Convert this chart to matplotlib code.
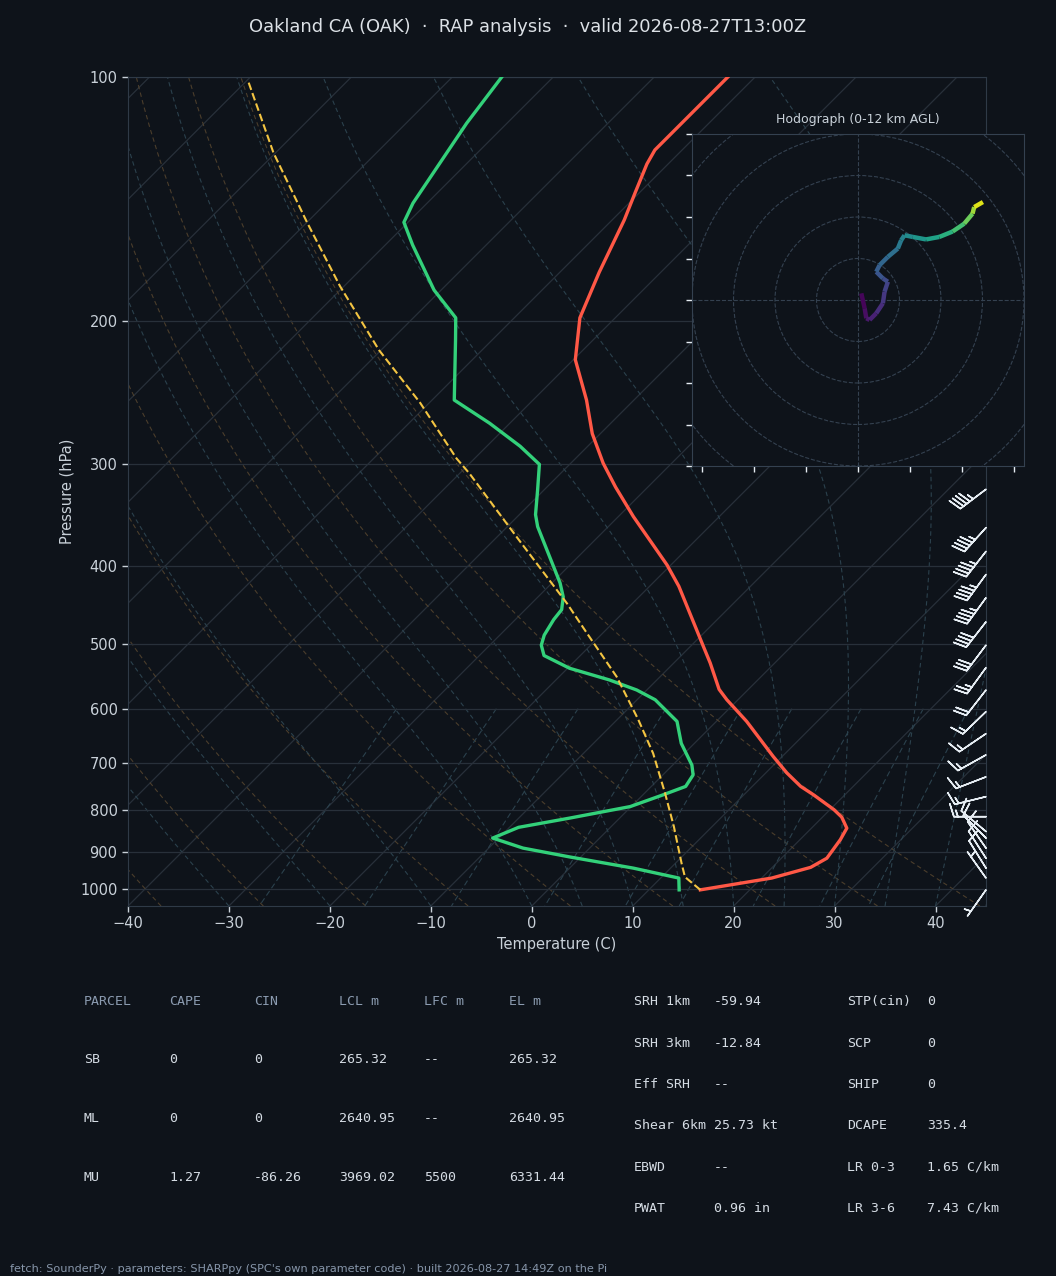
import numpy as np
import matplotlib
matplotlib.use('Agg')
import matplotlib.pyplot as plt
import matplotlib.transforms as mtransforms
from matplotlib.collections import LineCollection
from matplotlib.patches import Circle

# --- sounding values ---
temp_p = [1003, 970, 941, 917, 870, 842, 816, 799, 766, 748, 720, 687, 622, 585, 568,
          527, 503, 480, 424, 399, 348, 320, 299, 275, 250, 223, 198, 174, 162, 150,
          139, 128, 123, 100]
temp_c = [15.1, 21.0, 23.8, 24.5, 24.0, 23.5, 21.9, 20.4, 16.9, 14.8, 12.1, 9.1, 3.0, -1.1, -2.9,
          -6.4, -8.7, -11.0, -17.1, -20.4, -28.5, -33.2, -36.8, -40.8, -44.7, -49.8, -53.5, -56.1, -57.4, -58.8,
          -60.4, -62.1, -62.7, -62.7]

dew_p = [1003, 970, 943, 914, 891, 866, 840, 818, 792, 766, 748, 724, 704, 662, 622,
         585, 569, 553, 535, 516, 501, 487, 466, 453, 437, 420, 358, 346, 323, 300,
         285, 267, 250, 211, 198, 183, 161, 151, 143, 114, 100]
dew_c = [13.0, 11.8, 6.3, -1.0, -6.6, -10.6, -9.1, -4.9, -0.1, 2.0, 3.4, 3.0, 1.9, -1.3, -3.9,
         -8.2, -11.0, -14.7, -19.8, -23.6, -24.9, -25.6, -26.2, -26.4, -27.5, -29.2, -37.0, -38.4, -40.6, -43.0,
         -46.7, -52.0, -57.8, -63.6, -65.8, -70.7, -77.3, -80.4, -81.4, -84.0, -85.1]

parcel_p = [1003, 967, 930, 838, 762, 681, 619, 548, 484, 445, 372, 308, 295, 252, 217, 181, 151, 124, 101]
parcel_c = [15.1, 12.3, 10.6, 6.2, 2.0, -3.1, -7.9, -14.3, -21.6, -26.5, -37.5, -49.0, -51.8, -60.9, -70.2,
            -80.4, -90.0, -100.2, -109.9]

# wind barbs (kt)
barb_p = [275, 322, 359, 384, 410, 438, 469, 501, 534, 569, 605, 644, 684, 728, 770, 815,
          850, 866, 891, 917, 943, 970, 1003]
barb_u = [35.9, 35.9, 30.1, 27.7, 26.5, 26.5, 24.6, 18.1, 14.7, 12.3, 10.8, 12.4, 13.1, 14.0, 14.6, 15.0,
          7.7, 7.1, 5.7, 5.4, 5.3, 2.9, 2.9]
barb_v = [27.1, 27.1, 33.4, 35.5, 36.4, 36.4, 31.5, 24.0, 20.2, 15.8, 10.4, 8.4, 7.3, 5.4, 3.6, 0.0,
          -6.4, -7.1, -8.2, -8.4, -8.5, -4.1, 4.1]

# hodograph 0-12 km
hodo_u = [0.8, 1.6, 2.0, 2.8, 4.4, 6.0, 6.4, 7.2, 6.0, 4.4, 5.2, 7.2, 9.6, 10.4, 11.2, 13.2,
          16.4, 19.6, 22.8, 25.6, 27.6, 28.0, 30.1]
hodo_v = [1.6, -2.0, -4.4, -4.8, -3.2, -0.8, 2.0, 4.4, 5.2, 6.8, 8.4, 10.4, 12.4, 14.4, 15.6, 15.2,
          14.6, 15.2, 16.5, 18.4, 20.8, 22.4, 23.6]
hodo_z = [0.0, 0.3, 0.6, 0.9, 1.3, 1.7, 2.1, 2.5, 2.9, 3.3, 3.7, 4.1, 4.6, 5.1, 5.5, 6.0,
          6.6, 7.2, 8.0, 8.8, 9.8, 10.8, 12.0]

parcel_cols = ['PARCEL', 'CAPE', 'CIN', 'LCL m', 'LFC m', 'EL m']
parcel_rows = [['SB', '0', '0', '265.32', '--', '265.32'],
               ['ML', '0', '0', '2640.95', '--', '2640.95'],
               ['MU', '1.27', '-86.26', '3969.02', '5500', '6331.44']]
kin_names = ['SRH 1km', 'SRH 3km', 'Eff SRH', 'Shear 6km', 'EBWD', 'PWAT']
kin_vals = ['-59.94', '-12.84', '--', '25.73 kt', '--', '0.96 in']
idx_names = ['STP(cin)', 'SCP', 'SHIP', 'DCAPE', 'LR 0-3', 'LR 3-6']
idx_vals = ['0', '0', '0', '335.4', '1.65 C/km', '7.43 C/km']

BG = '#0e131a'
FG = '#c9d1d9'
GRID = '#28303a'

W, H = 1056, 1276
fig = plt.figure(figsize=(W / 100, H / 100), dpi=100, facecolor=BG)


def px(x0, y0, w, h):
    return [x0 / W, 1 - (y0 + h) / H, w / W, h / H]


ax = fig.add_axes(px(128, 77, 858, 829), facecolor=BG)
ax.set_yscale('log')
ax.set_xlim(-40, 45)
ax.set_ylim(1050, 100)
ax.autoscale(False)

# 45 degree skew in pixels
k = 829.0 / 858.0
skew = ax.transScale + ax.transLimits + mtransforms.Affine2D(
    np.array([[1, k, 0], [0, 1, 0], [0, 0, 1]])) + ax.transAxes

plev = np.linspace(1050, 100, 120)

# isotherms
for t in range(-160, 50, 10):
    ax.plot([t, t], [1050, 100], color=GRID, lw=0.9, transform=skew, zorder=1)

# dry adiabats
for t0 in np.arange(-40, 46, 10):
    tt = (t0 + 273.15) * (plev / 1000.0) ** 0.2857 - 273.15
    ax.plot(tt, plev, color='#5a4830', lw=0.8, ls=(0, (4, 3)), alpha=0.8, transform=skew, zorder=1)


# moist adiabats
def moist_rate(p, T):
    es = 6.112 * np.exp(17.67 * (T - 273.15) / (T - 29.65))
    rs = 0.622 * es / (p - es)
    return (287.04 * T + 2.501e6 * rs) / (1005.7 + 2.501e6 ** 2 * rs * 0.622 / (287.04 * T * T)) / p


t0m = np.concatenate((np.arange(-40, 0, 10), np.arange(0, 46, 5))) + 273.15
T = t0m.copy()
moist = [T.copy()]
for i in range(len(plev) - 1):
    p = plev[i]
    h = plev[i + 1] - p
    k1 = moist_rate(p, T)
    k2 = moist_rate(p + h / 2, T + h * k1 / 2)
    k3 = moist_rate(p + h / 2, T + h * k2 / 2)
    k4 = moist_rate(p + h, T + h * k3)
    T = T + h * (k1 + 2 * k2 + 2 * k3 + k4) / 6
    moist.append(T.copy())
moist = np.array(moist) - 273.15
for j in range(moist.shape[1]):
    ax.plot(moist[:, j], plev, color='#2b414d', lw=0.8, ls=(0, (4, 3)), transform=skew, zorder=1)

# mixing ratio lines
mpres = np.linspace(600, 1050, 40)
for w in [0.0004, 0.001, 0.002, 0.004, 0.007, 0.01, 0.016, 0.024, 0.032]:
    e = mpres * w / (0.622 + w)
    le = np.log(e / 6.112)
    td = 243.5 * le / (17.67 - le)
    ax.plot(td, mpres, color='#2b414d', lw=0.8, ls=(0, (5, 3)), transform=skew, zorder=1)

# profiles
ax.plot(temp_c, temp_p, color='#ff5846', lw=2.4, transform=skew, zorder=5)
ax.plot(dew_c, dew_p, color='#33d17a', lw=2.4, transform=skew, zorder=5)
ax.plot(parcel_c, parcel_p, color='#f4c542', lw=1.5, ls='--', transform=skew, zorder=6)

# barbs along right edge
blend = mtransforms.blended_transform_factory(ax.transAxes, ax.transData)
ax.barbs(np.ones(len(barb_p)), barb_p, barb_u, barb_v, transform=blend, length=6.8,
         color='#e6edf3', linewidth=1.1, clip_on=False, zorder=7)

yt = [1000, 900, 800, 700, 600, 500, 400, 300, 200, 100]
ax.set_yticks(yt, labels=[str(v) for v in yt])
ax.yaxis.set_minor_locator(matplotlib.ticker.NullLocator())
ax.set_xticks(range(-40, 41, 10))
ax.grid(axis='y', color=GRID, lw=0.9)
ax.grid(axis='x', visible=False)
ax.tick_params(colors=FG, labelsize=10.5, length=4, width=1)
for s in ax.spines.values():
    s.set_color('#2f3a47')
ax.set_xlabel('Temperature (C)', color=FG, fontsize=10.5)
ax.set_ylabel('Pressure (hPa)', color=FG, fontsize=10.5)

# hodograph inset
hax = fig.add_axes(px(692, 134, 332, 332), facecolor=BG)
hax.set_xlim(-40, 40)
hax.set_ylim(-40, 40)
for r in range(10, 70, 10):
    hax.add_patch(Circle((0, 0), r, fill=False, ls='--', lw=0.8, color='#344150'))
hax.axhline(0, color='#344150', ls='--', lw=0.8)
hax.axvline(0, color='#344150', ls='--', lw=0.8)
pts = np.column_stack([hodo_u, hodo_v])
segs = np.stack([pts[:-1], pts[1:]], axis=1)
zmid = (np.array(hodo_z[:-1]) + np.array(hodo_z[1:])) / 2
lc = LineCollection(segs, cmap='viridis', linewidths=3.2, capstyle='butt')
lc.set_array(zmid)
lc.set_clim(0, 12)
hax.add_collection(lc)
hax.set_xticks(np.arange(-37.5, 38, 12.5))
hax.set_yticks(range(-40, 41, 10))
hax.tick_params(colors='#e6edf3', labelleft=False, labelbottom=False, length=4, width=1)
for s in hax.spines.values():
    s.set_color('#344150')
hax.set_title('Hodograph (0-12 km AGL)', color=FG, fontsize=9, pad=8)

# title
fig.text(0.5, 1 - 27 / H, 'Oakland CA (OAK)  \u00b7  RAP analysis  \u00b7  valid 2026-08-27T13:00Z',
         ha='center', va='center', color='#dce1e6', fontsize=12.9)


def cell(xp, yp, s, color):
    # yp is the visual centre of the capitals; place the baseline below it
    fig.text(xp / W, 1 - (yp + 4.8) / H, s, family='DejaVu Sans Mono', fontsize=9.5,
             color=color, va='baseline')


# parcel table
cx = [84, 169, 254, 339, 424, 509]
ry = [1000, 1058, 1117, 1176]
for c, name in enumerate(parcel_cols):
    cell(cx[c], ry[0], name, '#8b9bb0')
for r, row in enumerate(parcel_rows):
    for c, val in enumerate(row):
        cell(cx[c], ry[r + 1], val, '#d5dce4')

ky = [1000, 1042, 1083, 1124, 1166, 1207]
for i in range(len(kin_names)):
    cell(634, ky[i], kin_names[i], '#d5dce4')
    cell(714, ky[i], kin_vals[i], '#d5dce4')
    cell(847, ky[i], idx_names[i], '#d5dce4')
    cell(927, ky[i], idx_vals[i], '#d5dce4')

fig.text(10 / W, 1 - 1269 / H,
         "fetch: SounderPy \u00b7 parameters: SHARPpy (SPC's own parameter code) \u00b7 built 2026-08-27 14:49Z on the Pi",
         fontsize=8.1, color='#8796aa', va='center')

fig.savefig('out.png', dpi=100, facecolor=BG)
